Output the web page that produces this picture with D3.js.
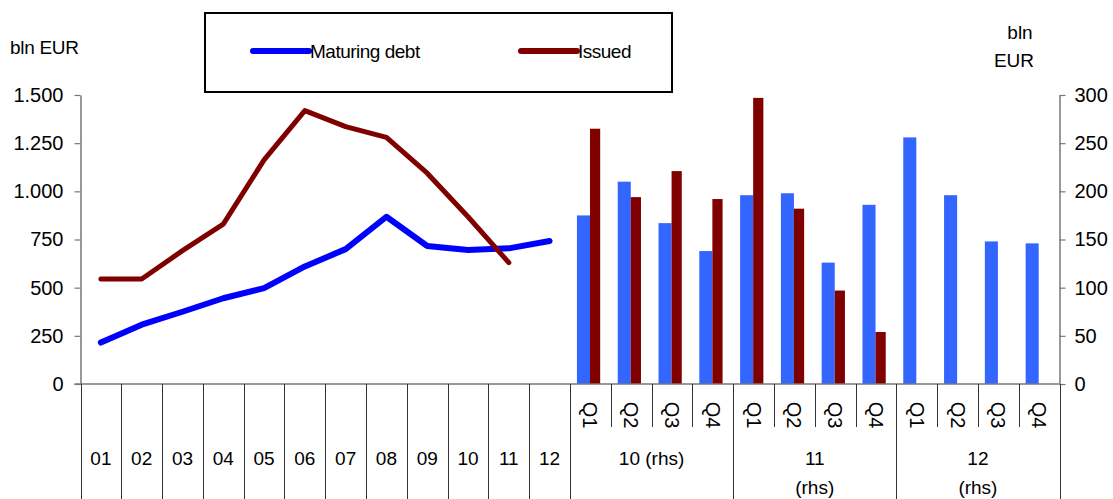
<!DOCTYPE html>
<html>
<head>
<meta charset="utf-8">
<script src="https://cdn.jsdelivr.net/npm/d3@7"></script>
<style>
  body { margin: 0; background: #fff; }
  text { font-family: "Liberation Sans", Arial, sans-serif; fill: #000; }
</style>
</head>
<body>
<div id="chart"></div>
<script>
// annual part (lhs, bln EUR)
const months = ['01', '02', '03', '04', '05', '06', '07', '08', '09', '10', '11', '12'];
const maturingAnnual = [215, 308, 375, 445, 498, 610, 700, 868, 716, 695, 704, 742];
const issuedAnnual = [545, 545, 692, 830, 1163, 1419, 1336, 1280, 1094, 868, 630];

// quarterly part (rhs, bln EUR)
const quarters = ['Q1', 'Q2', 'Q3', 'Q4', 'Q1', 'Q2', 'Q3', 'Q4', 'Q1', 'Q2', 'Q3', 'Q4'];
const years = [['10 (rhs)'], ['11', '(rhs)'], ['12', '(rhs)']];
const maturingQuarterly = [175, 210, 167, 138, 196, 198, 126, 186, 256, 196, 148, 146];
const issuedQuarterly = [265, 194, 221, 192, 297, 182, 97, 54];

const leftTicks = [0, 250, 500, 750, 1000, 1250, 1500];
const rightTicks = [0, 50, 100, 150, 200, 250, 300];

const width = 1113, height = 499;
const top0 = 95, base = 384;

const svg = d3.select('#chart').append('svg')
    .attr('width', width)
    .attr('height', height);

const nCells = months.length + quarters.length;
const x = d3.scaleBand()
    .domain(d3.range(nCells))
    .range([80.5, 1059.5]);
const bw = x.bandwidth();

const yLeft = d3.scaleLinear().domain([0, 1500]).range([base, top0]);
const yRight = d3.scaleLinear().domain([0, 300]).range([base, top0]);

const locale = d3.formatLocale({ decimal: ',', thousands: '.', grouping: [3], currency: ['', ''] });
const fmt = locale.format(',');

// bars (rhs)
const qx = i => x(months.length + i);
svg.append('g').selectAll('rect')
    .data(maturingQuarterly)
    .join('rect')
    .attr('x', (d, i) => qx(i) + bw * 0.17)
    .attr('width', bw * 0.32)
    .attr('y', d => yRight(d))
    .attr('height', d => base - yRight(d))
    .attr('fill', '#3366ff');

svg.append('g').selectAll('rect')
    .data(issuedQuarterly)
    .join('rect')
    .attr('x', (d, i) => qx(i) + bw * 0.49)
    .attr('width', bw * 0.25)
    .attr('y', d => yRight(d))
    .attr('height', d => base - yRight(d))
    .attr('fill', '#800000');

// lines (lhs)
const line = d3.line()
    .x((d, i) => x(i) + bw / 2)
    .y(d => yLeft(d));

svg.append('path')
    .datum(maturingAnnual)
    .attr('d', line)
    .attr('fill', 'none')
    .attr('stroke', '#0000ff')
    .attr('stroke-width', 6)
    .attr('stroke-linejoin', 'round')
    .attr('stroke-linecap', 'round');

svg.append('path')
    .datum(issuedAnnual)
    .attr('d', line)
    .attr('fill', 'none')
    .attr('stroke', '#800000')
    .attr('stroke-width', 5)
    .attr('stroke-linejoin', 'round')
    .attr('stroke-linecap', 'round');

// axes
const styleAxis = g => {
    g.attr('font-family', null);
    g.select('.domain').attr('stroke', '#777').attr('stroke-width', 1.5);
    g.selectAll('.tick line').attr('stroke', '#777').attr('stroke-width', 1.2);
    g.selectAll('.tick text').style('font-size', '20px').attr('fill', '#000');
};

svg.append('g')
    .attr('transform', `translate(${x.range()[0]},0)`)
    .call(d3.axisLeft(yLeft).tickValues(leftTicks).tickFormat(fmt).tickSize(6).tickSizeOuter(0).tickPadding(11))
    .call(styleAxis);

svg.append('g')
    .attr('transform', `translate(${x.range()[1]},0)`)
    .call(d3.axisRight(yRight).tickValues(rightTicks).tickSize(6).tickSizeOuter(0).tickPadding(9))
    .call(styleAxis);

// category axis line
svg.append('line')
    .attr('x1', x.range()[0] - 6).attr('x2', x.range()[1])
    .attr('y1', base).attr('y2', base)
    .attr('stroke', '#777').attr('stroke-width', 1.5);

// category dividers
const dividers = d3.range(nCells + 1).map(k => {
    const q = k - months.length;
    const full = k <= months.length || q % 4 === 0;
    return { x: k === nCells ? x.range()[1] : x(k), y2: full ? height : 427 };
});
svg.append('g').selectAll('line')
    .data(dividers)
    .join('line')
    .attr('x1', d => Math.round(d.x) + 0.5)
    .attr('x2', d => Math.round(d.x) + 0.5)
    .attr('y1', base)
    .attr('y2', d => d.y2)
    .attr('stroke', '#333')
    .attr('stroke-width', 1);

// month labels
svg.append('g').selectAll('text')
    .data(months)
    .join('text')
    .attr('x', (d, i) => x(i) + bw / 2)
    .attr('y', 465)
    .attr('text-anchor', 'middle')
    .style('font-size', '19px')
    .text(d => d);

// quarter labels, rotated
svg.append('g').selectAll('text')
    .data(quarters)
    .join('text')
    .attr('transform', (d, i) => `translate(${qx(i) + bw / 2},415) rotate(90)`)
    .attr('text-anchor', 'middle')
    .attr('dominant-baseline', 'central')
    .style('font-size', '20px')
    .text(d => d);

// year labels
const yearG = svg.append('g').selectAll('text')
    .data(years)
    .join('text')
    .attr('x', (d, i) => qx(i * 4) + bw * 2)
    .attr('y', 465)
    .attr('text-anchor', 'middle')
    .style('font-size', '19px');

yearG.selectAll('tspan')
    .data(d => d)
    .join('tspan')
    .attr('x', function() { return this.parentNode.getAttribute('x'); })
    .attr('dy', (d, i) => i === 0 ? 0 : 29)
    .text(d => d);

// unit labels
svg.append('text')
    .attr('x', 10).attr('y', 54)
    .style('font-size', '19px')
    .style('letter-spacing', '-0.3px')
    .text('bln EUR');

svg.append('text')
    .attr('x', 1020).attr('y', 39)
    .attr('text-anchor', 'middle')
    .style('font-size', '19px')
    .text('bln');

svg.append('text')
    .attr('x', 1014).attr('y', 67)
    .attr('text-anchor', 'middle')
    .style('font-size', '19px')
    .text('EUR');

// legend
const legend = svg.append('g');
legend.append('rect')
    .attr('x', 205).attr('y', 13)
    .attr('width', 467).attr('height', 79)
    .attr('fill', 'none')
    .attr('stroke', '#000')
    .attr('stroke-width', 2);

const legendItems = [
    { name: 'Maturing debt', color: '#0000ff', x: 253 },
    { name: 'Issued', color: '#800000', x: 521 }
];
const li = legend.selectAll('.item')
    .data(legendItems)
    .join('g')
    .attr('class', 'item')
    .attr('transform', d => `translate(${d.x},51)`);

li.append('line')
    .attr('x1', 0).attr('x2', 56)
    .attr('stroke', d => d.color)
    .attr('stroke-width', 6)
    .attr('stroke-linecap', 'round');

li.append('text')
    .attr('x', 57)
    .attr('dy', '0.35em')
    .style('font-size', '19px')
    .style('letter-spacing', '-0.5px')
    .text(d => d.name);
</script>
</body>
</html>
